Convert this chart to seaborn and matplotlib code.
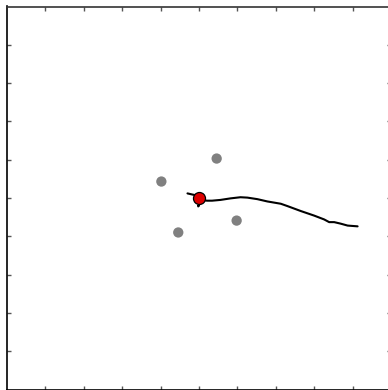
import matplotlib
matplotlib.use("Agg")
import matplotlib.pyplot as plt
import numpy as np
import pandas as pd
import seaborn as sns

# Trajectory of the tracked object
path_x = [-0.30, -0.17, -0.07, 0.02, 0.09, 0.04, -0.02, 0.03, 0.21, 0.34, 0.56, 0.82, 1.08, 1.26,
          1.52, 1.78, 2.13, 2.30, 2.65, 3.00, 3.26, 3.39, 3.52, 3.69, 3.87, 4.13]
path_y = [0.12, 0.09, 0.07, 0.04, -0.03, -0.10, -0.22, -0.05, -0.07, -0.07, -0.05, -0.01, 0.02, 0.01,
          -0.03, -0.09, -0.15, -0.21, -0.34, -0.46, -0.56, -0.63, -0.63, -0.67, -0.72, -0.74]

# Surrounding landmarks
land_x = [0.46, -0.98, -0.54, 0.98]
land_y = [1.03, 0.43, -0.90, -0.59]

# Current position
pos_x = [0.01]
pos_y = [-0.01]

sns.set_theme(style="white")

fig = plt.figure(figsize=(3.88, 3.90), dpi=100)
ax = fig.add_axes([7 / 388, 1 - 389.5 / 390, 384 / 388, 383 / 390])

path = pd.DataFrame({"x": path_x, "y": path_y})
lands = pd.DataFrame({"x": land_x, "y": land_y})
pos = pd.DataFrame({"x": pos_x, "y": pos_y})

sns.scatterplot(data=lands, x="x", y="y", ax=ax, s=55, color="#808080",
                edgecolor="none", zorder=2, legend=False)
sns.lineplot(data=path, x="x", y="y", ax=ax, sort=False, estimator=None,
             color="black", linewidth=1.5, zorder=3)
sns.scatterplot(data=pos, x="x", y="y", ax=ax, s=75, color="#dd0000",
                edgecolor="black", linewidth=0.9, zorder=4, legend=False)

ax.set_xlim(-5, 5)
ax.set_ylim(-5, 5)
ax.set_xticks(np.arange(-4, 5, 1))
ax.set_yticks(np.arange(-4, 5, 1))
ax.set_xticklabels([])
ax.set_yticklabels([])
ax.set_xlabel("")
ax.set_ylabel("")
ax.tick_params(axis="both", which="both", direction="in", length=3, width=1,
               color="#555555", top=True, right=True, bottom=True, left=True)
for side in ["left", "bottom", "top", "right"]:
    ax.spines[side].set_color("black")
    ax.spines[side].set_linewidth(1.2)
ax.spines["top"].set_color("#333333")

fig.savefig("out.png", dpi=100)
